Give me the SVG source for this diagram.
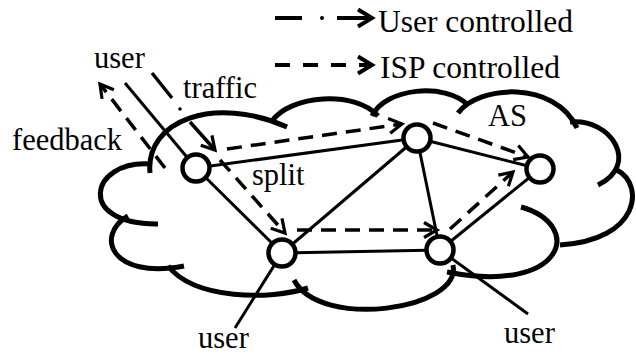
<svg xmlns="http://www.w3.org/2000/svg" width="636" height="356" viewBox="0 0 636 356">
<style>
.cloud{fill:none;stroke:#000;stroke-width:5}
.edge{stroke:#000;stroke-width:3;fill:none}
.isp{stroke:#000;stroke-width:3.5;fill:none;stroke-dasharray:15 9}
.usr{stroke:#000;stroke-width:3.5;fill:none}
.node{fill:#fff;stroke:#000;stroke-width:4.5}
</style>
<defs>
<marker id="ah" viewBox="-16 -10 20 20" markerWidth="20" markerHeight="20" refX="0" refY="0" orient="auto" markerUnits="userSpaceOnUse">
<path d="M-13,-7.5 L0,0 L-13,7.5" fill="none" stroke="#000" stroke-width="3.2" stroke-dasharray="none"/>
</marker>
<marker id="ahL" viewBox="-18 -12 22 24" markerWidth="22" markerHeight="24" refX="0" refY="0" orient="auto" markerUnits="userSpaceOnUse">
<path d="M-14,-8.5 L0,0 L-14,8.5" fill="none" stroke="#000" stroke-width="4" stroke-dasharray="none"/>
</marker>
</defs>
<g id="cloud">
<path class="cloud" d="M150,173 C145,120 215,95 287,127"/>
<path class="cloud" d="M272,121 C290,95 355,90 378,116"/>
<path class="cloud" d="M372,116 C385,88 445,82 468,105"/>
<path class="cloud" d="M458,113 C478,85 555,80 577,128"/>
<path class="cloud" d="M570,122 C612,118 640,165 598,185"/>
<path class="cloud" d="M617,170 C645,185 640,240 560,245"/>
<path class="cloud" d="M521,207 C585,225 565,295 447,272"/>
<path class="cloud" d="M453,265 C462,310 320,330 294,280"/>
<path class="cloud" d="M168,266 C195,300 270,300 308,288"/>
<path class="cloud" d="M128,216 C95,235 110,280 184,266"/>
<path class="cloud" d="M150,164 C90,160 75,225 158,224"/>
</g>
<g id="connectors">
<line class="edge" x1="196" y1="168" x2="417" y2="138"/>
<line class="edge" x1="196" y1="168" x2="282" y2="253"/>
<line class="edge" x1="282" y1="253" x2="417" y2="138"/>
<line class="edge" x1="282" y1="253" x2="440" y2="250"/>
<line class="edge" x1="417" y1="138" x2="440" y2="250"/>
<line class="edge" x1="417" y1="138" x2="540" y2="169"/>
<line class="edge" x1="440" y1="250" x2="540" y2="169"/>
<line class="edge" x1="125" y1="83" x2="196" y2="168"/>
<line class="edge" x1="282" y1="253" x2="235" y2="328"/>
<line class="edge" x1="440" y1="250" x2="528" y2="314"/>
<line class="isp" x1="165" y1="168" x2="100" y2="84" marker-end="url(#ah)"/>
<line class="isp" x1="227" y1="149" x2="402" y2="124" marker-end="url(#ah)"/>
<line class="isp" x1="433" y1="123" x2="528" y2="157" marker-end="url(#ah)"/>
<line class="isp" x1="220" y1="160" x2="285" y2="233" marker-end="url(#ah)"/>
<line class="isp" x1="297" y1="230" x2="437" y2="230" marker-end="url(#ah)"/>
<line class="isp" x1="450" y1="229" x2="513" y2="172" marker-end="url(#ah)"/>
<line class="usr" x1="152" y1="73" x2="172" y2="98"/>
<circle cx="180" cy="109" r="1.8" fill="#000"/>
<line class="usr" x1="190" y1="122" x2="215" y2="150" marker-end="url(#ah)"/>
</g>
<g id="legend">
<line x1="275" y1="18" x2="302" y2="18" stroke="#000" stroke-width="4"/>
<circle cx="322" cy="18" r="2" fill="#000"/>
<line x1="337" y1="18" x2="372" y2="18" stroke="#000" stroke-width="4" marker-end="url(#ahL)"/>
<line x1="275" y1="65" x2="372" y2="65" stroke="#000" stroke-width="4" stroke-dasharray="15 13" marker-end="url(#ahL)"/>
<g font-family="Liberation Serif" font-size="31.5" fill="#000">
<text x="378" y="32">User controlled</text>
<text x="380" y="78">ISP controlled</text>
</g>
</g>
<g id="n1"><circle class="node" cx="196" cy="168" r="13.5"/></g>
<g id="n2"><circle class="node" cx="417" cy="138" r="13.5"/></g>
<g id="n3"><circle class="node" cx="540" cy="169" r="13.5"/></g>
<g id="n4"><circle class="node" cx="282" cy="253" r="13.5"/></g>
<g id="n5"><circle class="node" cx="440" cy="250" r="13.5"/></g>
<g id="labels" font-family="Liberation Serif" font-size="30.5" fill="#000">
<text x="94" y="68">user</text>
<text x="183" y="98">traffic</text>
<text x="12" y="150">feedback</text>
<text x="252" y="185">split</text>
<text x="488" y="126">AS</text>
<text x="198" y="348">user</text>
<text x="504" y="343">user</text>
</g>
</svg>
